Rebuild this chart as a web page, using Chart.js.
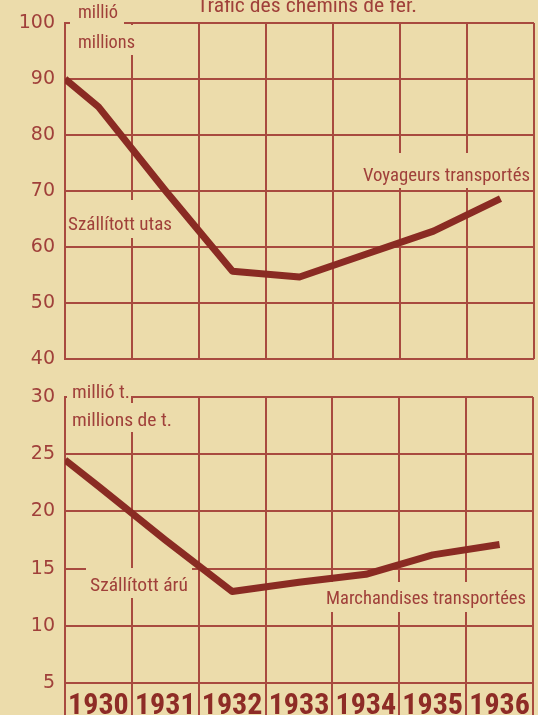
<!DOCTYPE html>
<html>
<head>
<meta charset="utf-8">
<script src="https://cdn.jsdelivr.net/npm/chart.js@4.4.1/dist/chart.umd.min.js"></script>
<style>
  html, body { margin: 0; padding: 0; background: #ecdcab; }
  body { width: 538px; height: 715px; position: relative; overflow: hidden; }
  canvas { position: absolute; left: 0; }
  #passengers { top: 0; }
  #goods { top: 370px; }
</style>
</head>
<body>
<canvas id="passengers" width="538" height="380"></canvas>
<canvas id="goods" width="538" height="345"></canvas>
<script>
const years = [1930, 1931, 1932, 1933, 1934, 1935, 1936];
// first value sits on the 1930 edge, the rest are mid-year
const passengersStart = 90;
const passengers = [85, 70, 55.6, 54.6, 58.7, 62.8, 68.6];
const goodsStart = 24.5;
const goods = [22.2, 17.5, 13.0, 13.8, 14.5, 16.2, 17.1];
const passengerTicks = [40, 50, 60, 70, 80, 90, 100];
const goodsTicks = [5, 10, 15, 20, 25, 30];
const yearEdges = [1930, 1931, 1932, 1933, 1934, 1935, 1936, 1937];

const paper = '#ecdcab';
const ink = '#a0403a';
const gridRed = '#a84a3f';
const lineRed = '#8a2b23';
const noteFont = "'Liberation Sans Narrow', 'Roboto Condensed', 'Liberation Sans', sans-serif";

function points(start, values) {
    return [{ x: years[0], y: start }].concat(values.map((v, i) => ({ x: years[i] + 0.5, y: v })));
}

// text notes with a paper patch behind them, squeezed to the given width
function notesPlugin(list) {
    return {
        id: 'notes',
        beforeDatasetsDraw(chart) {
            const ctx = chart.ctx;
            list.forEach(n => {
                if (n.bg) {
                    ctx.fillStyle = paper;
                    ctx.fillRect(n.bg[0], n.bg[1], n.bg[2] - n.bg[0], n.bg[3] - n.bg[1]);
                }
                ctx.save();
                ctx.font = `${n.size}px ${noteFont}`;
                const w = ctx.measureText(n.text).width;
                ctx.translate(n.x, n.y);
                ctx.scale(n.w / w, 1);
                ctx.fillStyle = ink;
                ctx.textBaseline = 'alphabetic';
                ctx.fillText(n.text, 0, 0);
                ctx.restore();
            });
        }
    };
}

const yLabelFont = { family: "'DejaVu Sans', sans-serif", size: 19 };

new Chart(document.getElementById('passengers'), {
    type: 'line',
    data: {
        datasets: [{
            data: points(passengersStart, passengers),
            borderColor: lineRed,
            borderWidth: 7,
            borderJoinStyle: 'round',
            pointRadius: 0,
            tension: 0
        }]
    },
    options: {
        responsive: false,
        animation: false,
        layout: { padding: { top: 23, right: 4, bottom: 3, left: 0 } },
        plugins: { legend: { display: false }, tooltip: { enabled: false } },
        scales: {
            x: {
                type: 'linear',
                min: 1930,
                max: 1937,
                afterBuildTicks: s => { s.ticks = yearEdges.map(v => ({ value: v })); },
                afterFit: s => { s.height = 0; },
                ticks: { display: false },
                grid: { color: gridRed, lineWidth: 2, drawTicks: false },
                border: { display: false }
            },
            y: {
                min: 40,
                max: 100,
                afterBuildTicks: s => { s.ticks = passengerTicks.map(v => ({ value: v })); },
                afterFit: s => { s.width = 65; },
                ticks: { color: ink, font: yLabelFont, padding: 10 },
                grid: { color: gridRed, lineWidth: 2, drawTicks: false },
                border: { color: gridRed, width: 2 }
            }
        }
    },
    plugins: [notesPlugin([
        { text: 'Trafic des chemins de fer.', x: 197, y: 12, w: 220, size: 20 },
        { text: 'millió', x: 78, y: 18, w: 40, size: 18, bg: [70, 0, 124, 27] },
        { text: 'millions', x: 78, y: 48, w: 57, size: 18, bg: [70, 25, 140, 55] },
        { text: 'Szállított utas', x: 68, y: 230, w: 104, size: 18, bg: [67, 200, 176, 238] },
        { text: 'Voyageurs transportés', x: 363, y: 181, w: 167, size: 19, bg: [358, 153, 531, 188] }
    ])]
});

new Chart(document.getElementById('goods'), {
    type: 'line',
    data: {
        datasets: [{
            data: points(goodsStart, goods),
            borderColor: lineRed,
            borderWidth: 7,
            borderJoinStyle: 'round',
            pointRadius: 0,
            tension: 0
        }]
    },
    options: {
        responsive: false,
        animation: false,
        layout: { padding: { top: 27, right: 5, bottom: 0, left: 0 } },
        plugins: { legend: { display: false }, tooltip: { enabled: false } },
        scales: {
            x: {
                type: 'linear',
                min: 1930,
                max: 1937,
                afterBuildTicks: s => { s.ticks = yearEdges.map(v => ({ value: v })); },
                afterFit: s => { s.height = 32; },
                ticks: {
                    color: '#8e2c26',
                    font: { family: noteFont, size: 30, weight: 'bold', lineHeight: 1 },
                    padding: -24,
                    labelOffset: 33.4,
                    minRotation: 0,
                    maxRotation: 0,
                    autoSkip: false,
                    callback: v => years.includes(v) ? String(v) : ''
                },
                grid: { color: gridRed, lineWidth: 2, drawTicks: true, tickLength: 32, tickColor: gridRed },
                border: { color: gridRed, width: 2 }
            },
            y: {
                min: 5,
                max: 30,
                afterBuildTicks: s => { s.ticks = goodsTicks.map(v => ({ value: v })); },
                afterFit: s => { s.width = 65; },
                ticks: { color: ink, font: yLabelFont, padding: 10 },
                grid: { color: gridRed, lineWidth: 2, drawTicks: false },
                border: { color: gridRed, width: 2 }
            }
        }
    },
    plugins: [notesPlugin([
        { text: 'millió t.', x: 72, y: 28, w: 58, size: 18, bg: [67, 12, 131, 33] },
        { text: 'millions de t.', x: 72, y: 56, w: 100, size: 18, bg: [67, 33, 176, 62] },
        { text: 'Szállított árú', x: 90, y: 221, w: 98, size: 19, bg: [86, 198, 192, 228] },
        { text: 'Marchandises transportées', x: 326, y: 234, w: 200, size: 19, bg: [320, 212, 530, 242] }
    ])]
});
</script>
</body>
</html>
